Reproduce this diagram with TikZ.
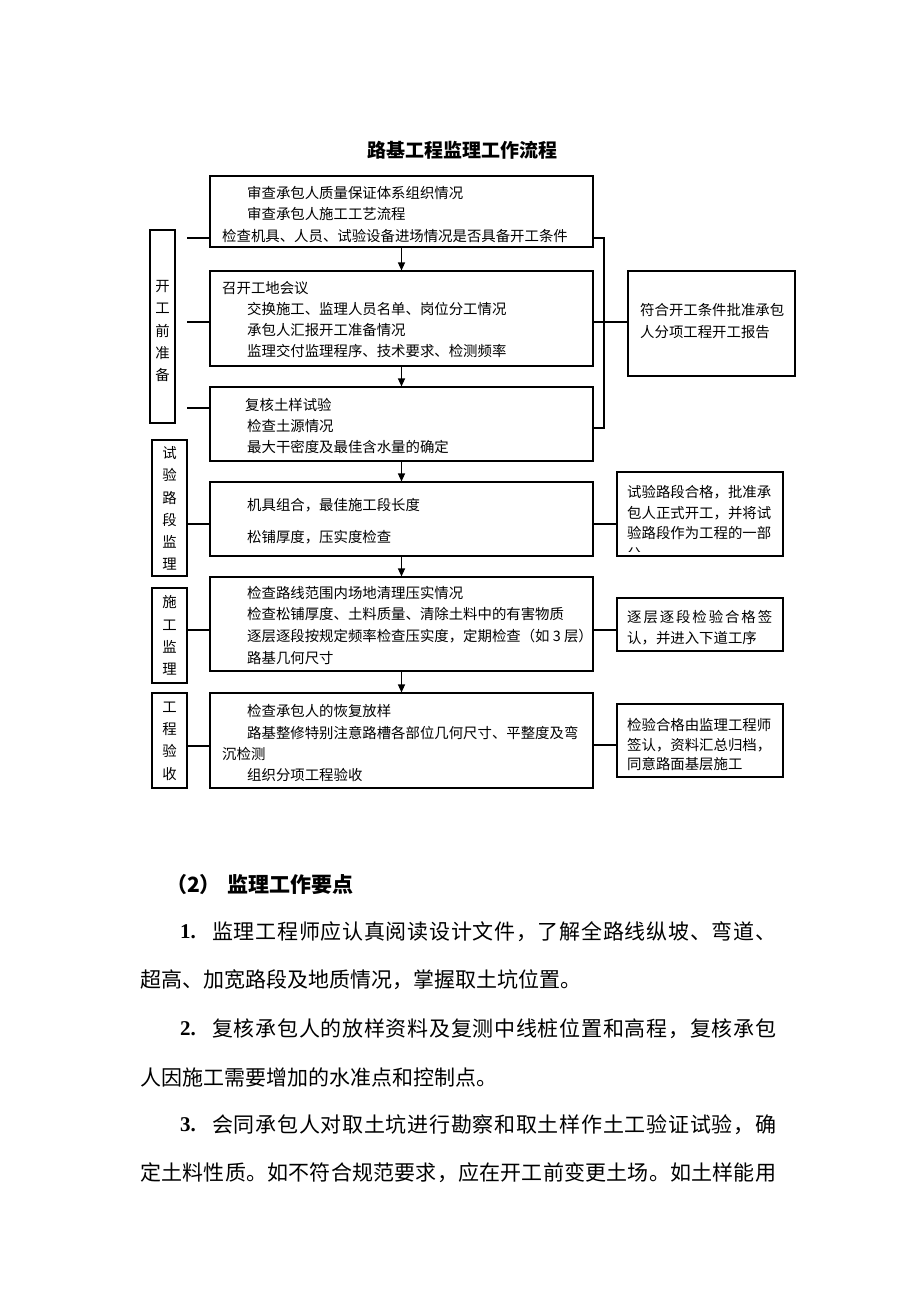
\documentclass[tikz,border=0pt]{standalone}
\usepackage{fontspec}
\setmainfont{Liberation Serif}
\newfontfamily\cjk{Noto Sans CJK SC}
\usetikzlibrary{arrows.meta,fit}
\def\spreadfirst#1{#1\spreadaux}
\def\spreadaux#1{\ifx\relax#1\else\hfil#1\expandafter\spreadaux\fi}
\newcommand\spreadline[2]{\hbox to #1{\spreadfirst#2\relax}}
\tikzset{
  box/.style={draw, line width=1.1pt, inner sep=0pt},
  conn/.style={line width=1.1pt},
  arr/.style={line width=1.1pt, -{Triangle[width=7pt,length=8pt]}},
  txt/.style={anchor=west, inner sep=0pt, font=\cjk\fontsize{14.4}{14.4}\selectfont},
  vtxt/.style={align=center, inner sep=0pt, font=\cjk\fontsize{14.4}{22.3}\selectfont},
  body/.style={anchor=west, inner sep=0pt, font=\cjk\fontsize{21}{21}\selectfont},
  bodyb/.style={anchor=west, inner sep=0pt, font=\cjk\bfseries\fontsize{21}{21}\selectfont},
  num/.style={anchor=west, inner sep=0pt, font=\bfseries\fontsize{21}{21}\selectfont},
}
\begin{document}
\begin{tikzpicture}[x=1pt,y=-1pt]
\fill[white] (0,0) rectangle (920,1302);
\useasboundingbox (0,0) rectangle (920,1302);

% title
\node[inner sep=0pt, font=\cjk\bfseries\fontsize{19}{19}\selectfont] (title) at (462,150) {路基工程监理工作流程};

% main boxes
\node[box, fit={(210,176) (593,247)}] (b1) {};
\node[box, fit={(210,271) (593,366)}] (b2) {};
\node[box, fit={(210,387) (593,461)}] (b3) {};
\node[box, fit={(210,482) (593,556)}] (b4) {};
\node[box, fit={(210,577) (593,671)}] (b5) {};
\node[box, fit={(210,693) (593,788)}] (b6) {};

\draw[arr] (b1.south) -- (b2.north);
\draw[arr] (b2.south) -- (b3.north);
\draw[arr] (b3.south) -- (b4.north);
\draw[arr] (b4.south) -- (b5.north);
\draw[arr] (b5.south) -- (b6.north);

% main box texts
\node[txt] (t11) at (247,193) {审查承包人质量保证体系组织情况};
\node[txt] (t12) at (247,214) {审查承包人施工工艺流程};
\node[txt] (t13) at (222,236) {检查机具、人员、试验设备进场情况是否具备开工条件};

\node[txt] (t21) at (222,288) {召开工地会议};
\node[txt] (t22) at (247,309) {交换施工、监理人员名单、岗位分工情况};
\node[txt] (t23) at (247,330) {承包人汇报开工准备情况};
\node[txt] (t24) at (247,351) {监理交付监理程序、技术要求、检测频率};

\node[txt] (t31) at (245,405) {复核土样试验};
\node[txt] (t32) at (247,426) {检查土源情况};
\node[txt] (t33) at (247,447) {最大干密度及最佳含水量的确定};

\node[txt] (t41) at (247,505) {机具组合，最佳施工段长度};
\node[txt] (t42) at (247,537) {松铺厚度，压实度检查};

\node[txt] (t51) at (247,593) {检查路线范围内场地清理压实情况};
\node[txt] (t52) at (247,614) {检查松铺厚度、土料质量、清除土料中的有害物质};
\node[txt] (t53) at (247,636) {逐层逐段按规定频率检查压实度，定期检查（如 3 层）};
\node[txt] (t54) at (247,658) {路基几何尺寸};

\node[txt] (t61) at (247,711) {检查承包人的恢复放样};
\node[txt] (t62) at (247,733) {路基整修特别注意路槽各部位几何尺寸、平整度及弯};
\node[txt] (t63) at (222,754) {沉检测};
\node[txt] (t64) at (247,775) {组织分项工程验收};

% left boxes
\node[box, fit={(150,230) (175,423)}] (l1) {};
\node[vtxt] (l1t) at (162.5,331) {开\\工\\前\\准\\备};
\node[box, fit={(152,440) (187,576)}] (l2) {};
\node[vtxt] (l2t) at (169.5,508.5) {试\\验\\路\\段\\监\\理};
\node[box, fit={(152,588) (187,683)}] (l3) {};
\node[vtxt] (l3t) at (169.5,635.5) {施\\工\\监\\理};
\node[box, fit={(152,693) (187,788)}] (l4) {};
\node[vtxt] (l4t) at (169.5,741) {工\\程\\验\\收};

% left connectors
\coordinate (la) at (187,238);
\coordinate (lb) at (187,322);
\coordinate (lc) at (187,408);
\draw[conn] (la) -- (b1.west |- la);
\draw[conn] (lb) -- (b2.west |- lb);
\draw[conn] (lc) -- (b3.west |- lc);
\coordinate (ld) at (0,524);
\coordinate (le) at (0,630);
\coordinate (lf) at (0,746);
\draw[conn] (l2.east |- ld) -- (b4.west |- ld);
\draw[conn] (l3.east |- le) -- (b5.west |- le);
\draw[conn] (l4.east |- lf) -- (b6.west |- lf);

% right boxes
\node[box, fit={(628,271) (795,376)}] (r1) {};
\node[txt] (r1a) at (640,310) {符合开工条件批准承包};
\node[txt] (r1b) at (640,332) {人分项工程开工报告};

\begin{scope}
\clip (617,472) rectangle (783,551);
\node[txt] (r2a) at (627,492) {试验路段合格，批准承};
\node[txt] (r2b) at (627,513) {包人正式开工，并将试};
\node[txt] (r2c) at (627,533) {验路段作为工程的一部};
\node[txt] (r2d) at (627,554) {分};
\end{scope}
\node[box, fit={(617,472) (783,556)}] (r2) {};

\node[box, fit={(617,598) (783,651)}] (r3) {};
\node[txt] (r3a) at (627,617) {\spreadline{145pt}{逐层逐段检验合格签}};
\node[txt] (r3b) at (627,638) {认，并进入下道工序};

\node[box, fit={(617,704) (783,777)}] (r4) {};
\node[txt] (r4a) at (627,725) {检验合格由监理工程师};
\node[txt] (r4b) at (627,745) {签认，资料汇总归档，};
\node[txt] (r4c) at (627,764) {同意路面基层施工};

% right connectors
\coordinate (ra) at (604,238);
\coordinate (rb) at (604,428);
\coordinate (rc) at (0,322);
\draw[conn] (b1.east |- ra) -- (ra) -- (rb) -- (b3.east |- rb);
\draw[conn] (b2.east |- rc) -- (r1.west |- rc);
\coordinate (rd) at (0,524);
\coordinate (re) at (0,630);
\coordinate (rf) at (0,745);
\draw[conn] (b4.east |- rd) -- (r2.west |- rd);
\draw[conn] (b5.east |- re) -- (r3.west |- re);
\draw[conn] (b6.east |- rf) -- (r4.west |- rf);

% body text
\node[inner sep=0pt, anchor=west, font=\cjk\bfseries\fontsize{21}{21}\selectfont] (h1) at (166,885) {（2）};
\node[bodyb] (h2) at (227,885) {监理工作要点};

\node[num] (n1) at (180,932) {1.};
\node[body] (p1) at (212,932) {\spreadline{564pt}{监理工程师应认真阅读设计文件，了解全路线纵坡、弯道、}};
\node[body] (p2) at (140,980) {超高、加宽路段及地质情况，掌握取土坑位置。};
\node[num] (n2) at (180,1029) {2.};
\node[body] (p3) at (212,1029) {\spreadline{564pt}{复核承包人的放样资料及复测中线桩位置和高程，复核承包}};
\node[body] (p4) at (140,1077) {人因施工需要增加的水准点和控制点。};
\node[num] (n3) at (180,1125) {3.};
\node[body] (p5) at (212,1125) {\spreadline{564pt}{会同承包人对取土坑进行勘察和取土样作土工验证试验，确}};
\node[body] (p6) at (140,1173) {\spreadline{636pt}{定土料性质。如不符合规范要求，应在开工前变更土场。如土样能用}};
\end{tikzpicture}
\end{document}
